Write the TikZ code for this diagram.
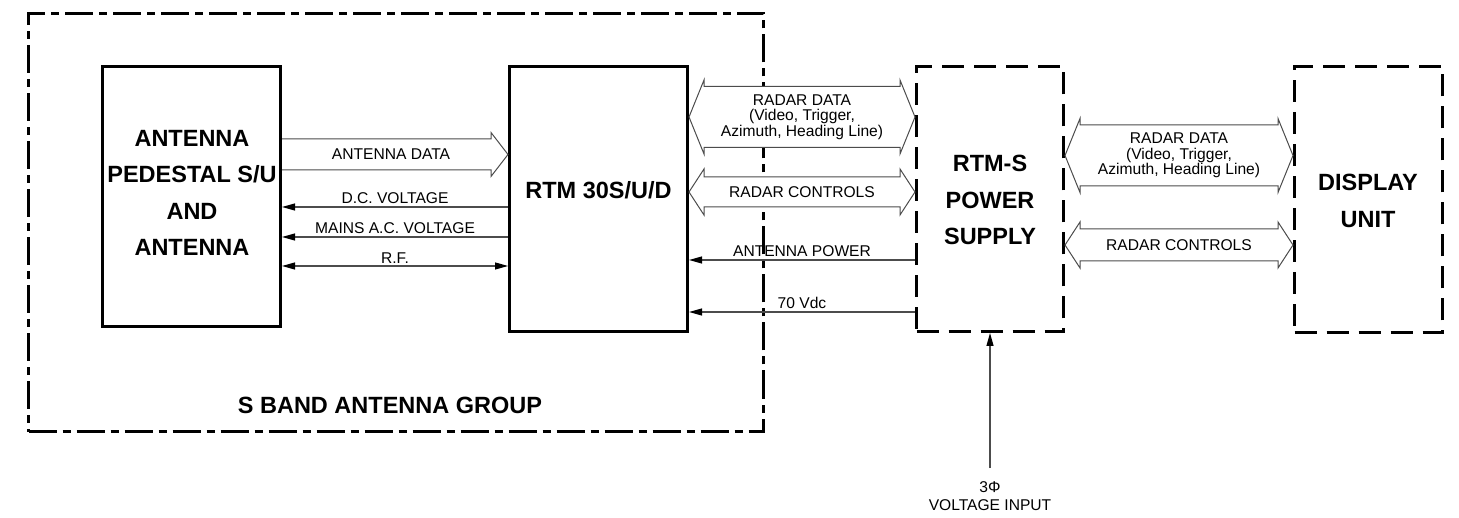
\documentclass[tikz,border=0pt]{standalone}
\usepackage{fontspec}
\setmainfont{Liberation Sans}
\usetikzlibrary{arrows.meta,calc}
\newcommand{\dblblock}[6]{%
  \draw[blockarr] (#1) -- ($(#1)+(#5,#4)$) -- ($(#1)+(#5,#3)$) -- ($(#2)+(-#5,#3)$) -- ($(#2)+(-#5,#4)$) -- (#2)
    -- ($(#2)+(-#5,-#4)$) -- ($(#2)+(-#5,-#3)$) -- ($(#1)+(#5,-#3)$) -- ($(#1)+(#5,-#4)$) -- cycle;
  \node[lbl] at ($(#1)!0.5!(#2)$) {#6};}
\begin{document}
\begin{tikzpicture}[x=1pt,y=1pt,
  solidbox/.style={draw, line width=3pt, inner sep=0pt},
  dashbox/.style={draw, line width=3pt, dash pattern=on 22pt off 10pt, inner sep=0pt},
  groupbox/.style={draw, line width=3pt, dash pattern=on 28pt off 6pt on 8pt off 6pt, inner sep=0pt},
  title/.style={font=\bfseries\fontsize{23.5}{36.5}\selectfont, align=center},
  lbl/.style={font=\fontsize{15.6}{15.5}\selectfont, align=center, inner sep=2.5pt},
  wire/.style={draw=black!70, line width=1.2pt},
  blockarr/.style={draw=black!70, fill=white, line width=1pt, line join=miter},
  mytip/.tip={Triangle[length=13pt,width=7pt,color=black]}]

\useasboundingbox (0,0) rectangle (1459,-518);

% boxes
\node[groupbox, minimum width=735pt, minimum height=418pt] (grp) at (396,-222.5) {};
\node[solidbox, minimum width=178pt, minimum height=260pt] (ant) at (191.5,-196.5) {};
\node[solidbox, minimum width=178pt, minimum height=265pt] (rtm) at (598.5,-199) {};
\node[dashbox, minimum width=147pt, minimum height=265pt] (psu) at (990,-199) {};
\node[dashbox, minimum width=148pt, minimum height=266pt] (disp) at (1368.5,-199.5) {};

% box titles
\node[title] (antT) at (192,-193) {ANTENNA\\PEDESTAL S/U\\AND\\ANTENNA};
\node[title] (rtmT) at (598.5,-190) {RTM 30S/U/D};
\node[title] (psuT) at (990,-200) {RTM-S\\POWER\\SUPPLY};
\node[title] (dispT) at (1368,-201) {DISPLAY\\UNIT};
\node[title] (grpT) at (390,-405) {S BAND ANTENNA GROUP};

% antenna data block arrow
\coordinate (adL) at (ant.east |- 0,-154.5);
\coordinate (adR) at (rtm.west |- 0,-154.5);
\draw[blockarr] ($(adL)+(0,15.5)$) -- ($(adR)+(-17,15.5)$) -- ($(adR)+(-17,22)$) -- (adR)
  -- ($(adR)+(-17,-22)$) -- ($(adR)+(-17,-15.5)$) -- ($(adL)+(0,-15.5)$);
\node[lbl] (adT) at ($(adL)!0.5!(adR)+(-4,0)$) {ANTENNA DATA};

% thin wires between antenna and RTM
\draw[wire,-mytip] (rtm.west |- 0,-207) -- node[lbl,above]{D.C. VOLTAGE} (ant.east |- 0,-207);
\draw[wire,-mytip] (rtm.west |- 0,-237) -- node[lbl,above]{MAINS A.C. VOLTAGE} (ant.east |- 0,-237);
\draw[wire,mytip-mytip] (ant.east |- 0,-266) -- node[lbl,above,inner sep=1.5pt]{R.F.} (rtm.west |- 0,-266);

% RTM <-> PSU
\coordinate (rdL) at (rtm.east |- 0,-117);
\coordinate (rdR) at (psu.west |- 0,-117);
\dblblock{rdL}{rdR}{30.5}{37}{15}{RADAR DATA\\(Video, Trigger,\\Azimuth, Heading Line)}
\coordinate (rcL) at (rtm.east |- 0,-192);
\coordinate (rcR) at (psu.west |- 0,-192);
\dblblock{rcL}{rcR}{15}{23}{15}{RADAR CONTROLS}
\draw[wire,-mytip] (psu.west |- 0,-260) -- node[lbl,above]{ANTENNA POWER} (rtm.east |- 0,-260);
\draw[wire,-mytip] (psu.west |- 0,-312) -- node[lbl,above]{70 Vdc} (rtm.east |- 0,-312);

% PSU <-> Display
\coordinate (rd2L) at (psu.east |- 0,-155.5);
\coordinate (rd2R) at (disp.west |- 0,-155.5);
\dblblock{rd2L}{rd2R}{30.5}{37}{15}{RADAR DATA\\(Video, Trigger,\\Azimuth, Heading Line)}
\coordinate (rc2L) at (psu.east |- 0,-245);
\coordinate (rc2R) at (disp.west |- 0,-245);
\dblblock{rc2L}{rc2R}{16}{23}{15}{RADAR CONTROLS}

% voltage input
\coordinate (vin) at (990,-468);
\draw[wire,-mytip] (vin) -- (psu.south);
\node[lbl, font=\fontsize{15.6}{18}\selectfont] (vinT) at (990,-496) {3Φ\\VOLTAGE INPUT};
\end{tikzpicture}
\end{document}
